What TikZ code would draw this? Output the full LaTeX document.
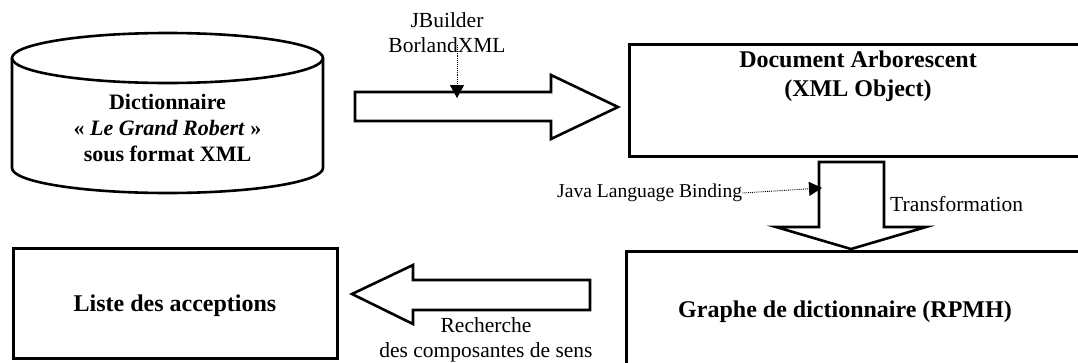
\documentclass[tikz,border=0pt]{standalone}
\usepackage{fontspec}
\setmainfont{Liberation Serif}
\usetikzlibrary{arrows.meta}
\tikzset{
  boite/.style = {rectangle, draw=black, line width=2.6pt, inner sep=0pt},% cadre
  titre/.style = {align=center, inner sep=0pt,
    font=\fontsize{24}{29}\selectfont\bfseries},% texte des cadres
  titre_cyl/.style = {align=center, inner sep=0pt,
    font=\fontsize{22}{26}\selectfont\bfseries},% texte du cylindre
  legende/.style = {align=center, inner sep=0pt,
    font=\fontsize{21.5}{25}\selectfont},% legende des fleches
  grosse/.style = {draw=black, line width=2.6pt, fill=white, line join=miter},% fleche pleine
  pointille/.style = {densely dotted, line width=0.9pt,
    -{Triangle[length=13pt,width=14pt]}}% fleche en pointille
}

\begin{document}
\begin{tikzpicture}[x=1pt, y=-1pt]
  \clip (0,0) rectangle (1078,362);
  % base de donnees
  \draw[line width=2.6pt, fill=white] (12,58) -- (12,168)
    arc[start angle=180, end angle=360, x radius=155.5pt, y radius=25pt] -- (323,58);
  \draw[line width=2.6pt] (167.5,58) ellipse [x radius=155.5pt, y radius=25pt];
  \node [titre_cyl] (dico) at (167.5,128) {Dictionnaire\\
    « \textit{Le Grand Robert} »\\ sous format XML};
  % cadres
  \node [boite, minimum width=460pt, minimum height=112pt, anchor=north west]
    (arbre) at (628,43) {};
  \node [titre] (arbretxt) at (858,76) {Document Arborescent\\(XML Object)};
  \node [boite, minimum width=460pt, minimum height=118pt, anchor=north west]
    (graphe) at (625,250) {};
  \node [titre] (graphetxt) at (845,312) {Graphe de dictionnaire (RPMH)};
  \node [boite, minimum width=324pt, minimum height=110pt, anchor=north west]
    (liste) at (12,247) {};
  \node [titre] (listetxt) at (175,306) {Liste des acceptions};
  % fleches pleines
  \draw[grosse] (355,92) -- (551,92) -- (551,75) -- (618,107) -- (551,139)
    -- (551,121) -- (355,121) -- cycle;
  \draw[grosse] (819,162) -- (884,162) -- (884,227) -- (926,227) -- (851,249)
    -- (776,227) -- (819,227) -- cycle;
  \draw[grosse] (590,280) -- (413,280) -- (413,265) -- (352,294) -- (413,324)
    -- (413,310) -- (590,310) -- cycle;
  \coordinate (p1) at (457,98);
  \coordinate (p2) at (822,188);
  % legendes
  \node [legende] (jb) at (447,33) {JBuilder\\BorlandXML};
  \node [legende, font=\fontsize{19.6}{22}\selectfont, anchor=west]
    (java) at (557,193) {Java Language Binding};
  \node [legende, anchor=west] (transfo) at (890,204) {Transformation};
  \node [legende] (rech) at (486,340) {Recherche\\des composantes de sens};
  \draw[pointille] (457,45) -- (p1);
  \draw[pointille] (java.east) -- (p2);
\end{tikzpicture}
\end{document}
